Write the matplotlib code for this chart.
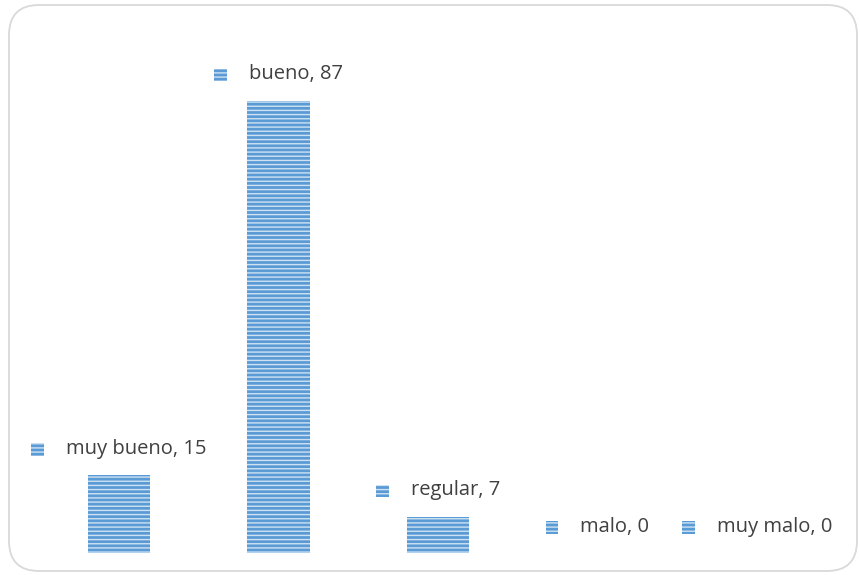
import matplotlib
matplotlib.use("Agg")
import matplotlib.pyplot as plt
from matplotlib.patches import FancyBboxPatch, Rectangle
from matplotlib.offsetbox import AnnotationBbox, HPacker, DrawingArea, TextArea

categorias = ["muy bueno", "bueno", "regular", "malo", "muy malo"]
valores = [15, 87, 7, 0, 0]

AZUL = "#5b9bd5"
RAYA = "#cfe2f3"
plt.rcParams["font.family"] = ["Open Sans", "DejaVu Sans"]
plt.rcParams["hatch.linewidth"] = 1.0

fig = plt.figure(figsize=(8.6, 5.75), dpi=100)

# marco redondeado
marco = FancyBboxPatch((9 / 860, 4 / 575), 848 / 860, 566 / 575,
                       boxstyle="round,pad=0,rounding_size=0.035",
                       transform=fig.transFigure, facecolor="none",
                       edgecolor="#d9d9d9", linewidth=1.3, mutation_aspect=860 / 575,
                       zorder=-1)
fig.patches.append(marco)

ax = fig.add_axes([39 / 860, 22 / 575, 798 / 860, 523 / 575])
ax.set_facecolor("none")
x = range(len(categorias))
ax.bar(x, valores, width=0.39, color=AZUL, edgecolor=RAYA, linewidth=0, hatch="----")
ax.set_xlim(-0.5, 4.5)
ax.set_ylim(0, 100.6)
ax.axis("off")

for i, (cat, v) in enumerate(zip(categorias, valores)):
    da = DrawingArea(10, 16, 0, 0)
    da.add_artist(Rectangle((0, 3), 9, 9, facecolor=AZUL, edgecolor=RAYA,
                            linewidth=0, hatch="----"))
    ta = TextArea(f"{cat}, {v}", textprops=dict(color="#404040", fontsize=14.5))
    caja = HPacker(children=[da, ta], align="center", pad=0, sep=15)
    ab = AnnotationBbox(caja, (i, v), xybox=(0, 11), xycoords="data",
                        boxcoords="offset points", box_alignment=(0.5, 0),
                        frameon=False, pad=0)
    ax.add_artist(ab)

fig.savefig("out.png", dpi=100)
